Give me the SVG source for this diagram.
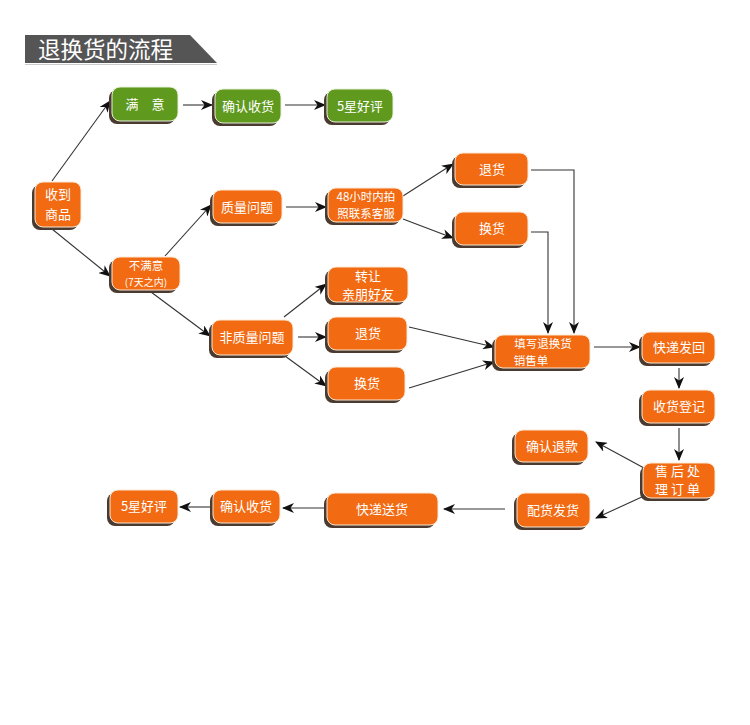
<svg xmlns="http://www.w3.org/2000/svg" width="750" height="725" viewBox="0 0 750 725">
<defs>
<marker id="ah" viewBox="0 0 12 10" refX="11" refY="5" markerWidth="12" markerHeight="10" markerUnits="userSpaceOnUse" orient="auto">
<path d="M0,0 L12,5 L0,10 L3.5,5 z" fill="#111"/>
</marker>
<style>
.sh{fill:#4a3a30;}
.o{fill:#f26a12;stroke:#fbe7d2;stroke-width:1;}
.g{fill:#5f9a1e;stroke:#e7f0d8;stroke-width:1;}
.t{font-family:"Noto Sans CJK SC","Liberation Sans",sans-serif;font-size:13px;fill:#fff;text-anchor:middle;}
.c{fill:none;stroke:#333;stroke-width:1.1;}
.ca{fill:none;stroke:#333;stroke-width:1.1;marker-end:url(#ah);}
</style>
</defs>
<rect width="750" height="725" fill="#fff"/>
<g id="title">
<polygon points="25,35 190,35 217,63 25,63" fill="#555"/>
<line x1="25" y1="64.5" x2="217" y2="64.5" stroke="#ccc" stroke-width="1"/>
<text x="38" y="57.5" font-family="Noto Sans CJK SC, sans-serif" font-size="22.5" fill="#fff">退换货的流程</text>
</g>
<g id="connectors">
<line class="ca" x1="52" y1="181" x2="110" y2="101"/>
<line class="ca" x1="52" y1="229" x2="110" y2="276"/>
<line class="ca" x1="183" y1="105" x2="212" y2="105"/>
<line class="ca" x1="285" y1="105" x2="325" y2="105"/>
<line class="ca" x1="165" y1="256" x2="211" y2="205"/>
<line class="ca" x1="286" y1="207" x2="326" y2="207"/>
<line class="ca" x1="151" y1="292" x2="210" y2="336"/>
<line class="ca" x1="403" y1="196" x2="453" y2="164"/>
<line class="ca" x1="403" y1="219" x2="453" y2="238"/>
<line class="ca" x1="284" y1="317" x2="326" y2="284"/>
<line class="ca" x1="298" y1="337" x2="326" y2="337"/>
<line class="ca" x1="285" y1="356" x2="326" y2="386"/>
<line class="ca" x1="409" y1="327" x2="494" y2="347"/>
<line class="ca" x1="409" y1="388" x2="494" y2="362"/>
<polyline class="ca" points="531,170 574,170 574,333"/>
<polyline class="ca" points="531,232 548,232 548,333"/>
<line class="ca" x1="594" y1="347" x2="640" y2="347"/>
<line class="ca" x1="679" y1="368" x2="679" y2="388"/>
<line class="ca" x1="679" y1="428" x2="679" y2="460"/>
<line class="ca" x1="644" y1="468" x2="596" y2="442"/>
<line class="ca" x1="644" y1="496" x2="596" y2="518"/>
<line class="ca" x1="505" y1="509" x2="444" y2="509"/>
<line class="ca" x1="325" y1="508" x2="283" y2="508"/>
<line class="ca" x1="211" y1="507" x2="180" y2="507"/>
</g>
<g id="n_manyi"><rect class="sh" x="109" y="90" width="66" height="34" rx="8"/><rect class="g" x="112" y="87" width="66" height="34" rx="8"/><text class="t" x="145" y="109">满　意</text></g>
<g id="n_qrsh1"><rect class="sh" x="212" y="92" width="66" height="34" rx="8"/><rect class="g" x="215" y="89" width="66" height="34" rx="8"/><text class="t" x="248" y="111">确认收货</text></g>
<g id="n_5x1"><rect class="sh" x="324" y="92" width="66" height="33" rx="8"/><rect class="g" x="327" y="89" width="66" height="33" rx="8"/><text class="t" x="360" y="111">5星好评</text></g>
<g id="n_shoudao"><rect class="sh" x="32" y="185" width="46" height="45" rx="8"/><rect class="o" x="35" y="182" width="46" height="45" rx="8"/><text class="t" x="58" y="199">收到</text><text class="t" x="58" y="219">商品</text></g>
<g id="n_zlwt"><rect class="sh" x="210" y="193" width="69" height="33" rx="8"/><rect class="o" x="213" y="190" width="69" height="33" rx="8"/><text class="t" x="247" y="212">质量问题</text></g>
<g id="n_48"><rect class="sh" x="325" y="191" width="75" height="34" rx="8"/><rect class="o" x="328" y="188" width="75" height="34" rx="8"/><text class="t" x="366" y="201" style="font-size:11.5px">48小时内拍</text><text class="t" x="366" y="218" style="font-size:11.5px">照联系客服</text></g>
<g id="n_bmy"><rect class="sh" x="109" y="260" width="68" height="33" rx="8"/><rect class="o" x="112" y="257" width="68" height="33" rx="8"/><text class="t" x="146" y="270" style="font-size:11.5px">不满意</text><text class="t" x="146" y="286" style="font-size:10px">(7天之内)</text></g>
<g id="n_zr"><rect class="sh" x="325" y="270" width="80" height="35" rx="8"/><rect class="o" x="328" y="267" width="80" height="35" rx="8"/><text class="t" x="368" y="281">转让</text><text class="t" x="368" y="299">亲朋好友</text></g>
<g id="n_fzl"><rect class="sh" x="209" y="323" width="81" height="35" rx="8"/><rect class="o" x="212" y="320" width="81" height="35" rx="8"/><text class="t" x="252" y="342">非质量问题</text></g>
<g id="n_th2"><rect class="sh" x="325" y="320" width="79" height="33" rx="8"/><rect class="o" x="328" y="317" width="79" height="33" rx="8"/><text class="t" x="368" y="338">退货</text></g>
<g id="n_hh2"><rect class="sh" x="325" y="370" width="77" height="33" rx="8"/><rect class="o" x="328" y="367" width="77" height="33" rx="8"/><text class="t" x="367" y="388">换货</text></g>
<g id="n_th1"><rect class="sh" x="452" y="156" width="73" height="32" rx="8"/><rect class="o" x="455" y="153" width="73" height="32" rx="8"/><text class="t" x="492" y="174">退货</text></g>
<g id="n_hh1"><rect class="sh" x="452" y="215" width="73" height="33" rx="8"/><rect class="o" x="455" y="212" width="73" height="33" rx="8"/><text class="t" x="492" y="233">换货</text></g>
<g id="n_tx"><rect class="sh" x="492" y="338" width="95" height="33" rx="8"/><rect class="o" x="495" y="335" width="95" height="33" rx="8"/><text class="t" x="543" y="348" style="font-size:11.5px">填写退换货</text><text class="t" x="531" y="365" style="font-size:11.5px">销售单</text></g>
<g id="n_kdfh"><rect class="sh" x="639" y="335" width="73" height="31" rx="8"/><rect class="o" x="642" y="332" width="73" height="31" rx="8"/><text class="t" x="679" y="352">快递发回</text></g>
<g id="n_shdj"><rect class="sh" x="639" y="393" width="73" height="33" rx="8"/><rect class="o" x="642" y="390" width="73" height="33" rx="8"/><text class="t" x="679" y="411">收货登记</text></g>
<g id="n_qrtk"><rect class="sh" x="512" y="433" width="73" height="32" rx="8"/><rect class="o" x="515" y="430" width="73" height="32" rx="8"/><text class="t" x="552" y="451">确认退款</text></g>
<g id="n_shcl"><rect class="sh" x="640" y="466" width="72" height="35" rx="8"/><rect class="o" x="643" y="463" width="72" height="35" rx="8"/><text class="t" x="679" y="476" style="letter-spacing:3px">售后处</text><text class="t" x="679" y="494" style="letter-spacing:3px">理订单</text></g>
<g id="n_phfh"><rect class="sh" x="514" y="496" width="73" height="34" rx="8"/><rect class="o" x="517" y="493" width="73" height="34" rx="8"/><text class="t" x="553" y="515">配货发货</text></g>
<g id="n_kdsh"><rect class="sh" x="324" y="496" width="111" height="32" rx="8"/><rect class="o" x="327" y="493" width="111" height="32" rx="8"/><text class="t" x="382" y="514">快递送货</text></g>
<g id="n_qrsh2"><rect class="sh" x="210" y="493" width="67" height="33" rx="8"/><rect class="o" x="213" y="490" width="67" height="33" rx="8"/><text class="t" x="246" y="511">确认收货</text></g>
<g id="n_5x2"><rect class="sh" x="107" y="493" width="68" height="33" rx="8"/><rect class="o" x="110" y="490" width="68" height="33" rx="8"/><text class="t" x="144" y="511">5星好评</text></g>
</svg>
